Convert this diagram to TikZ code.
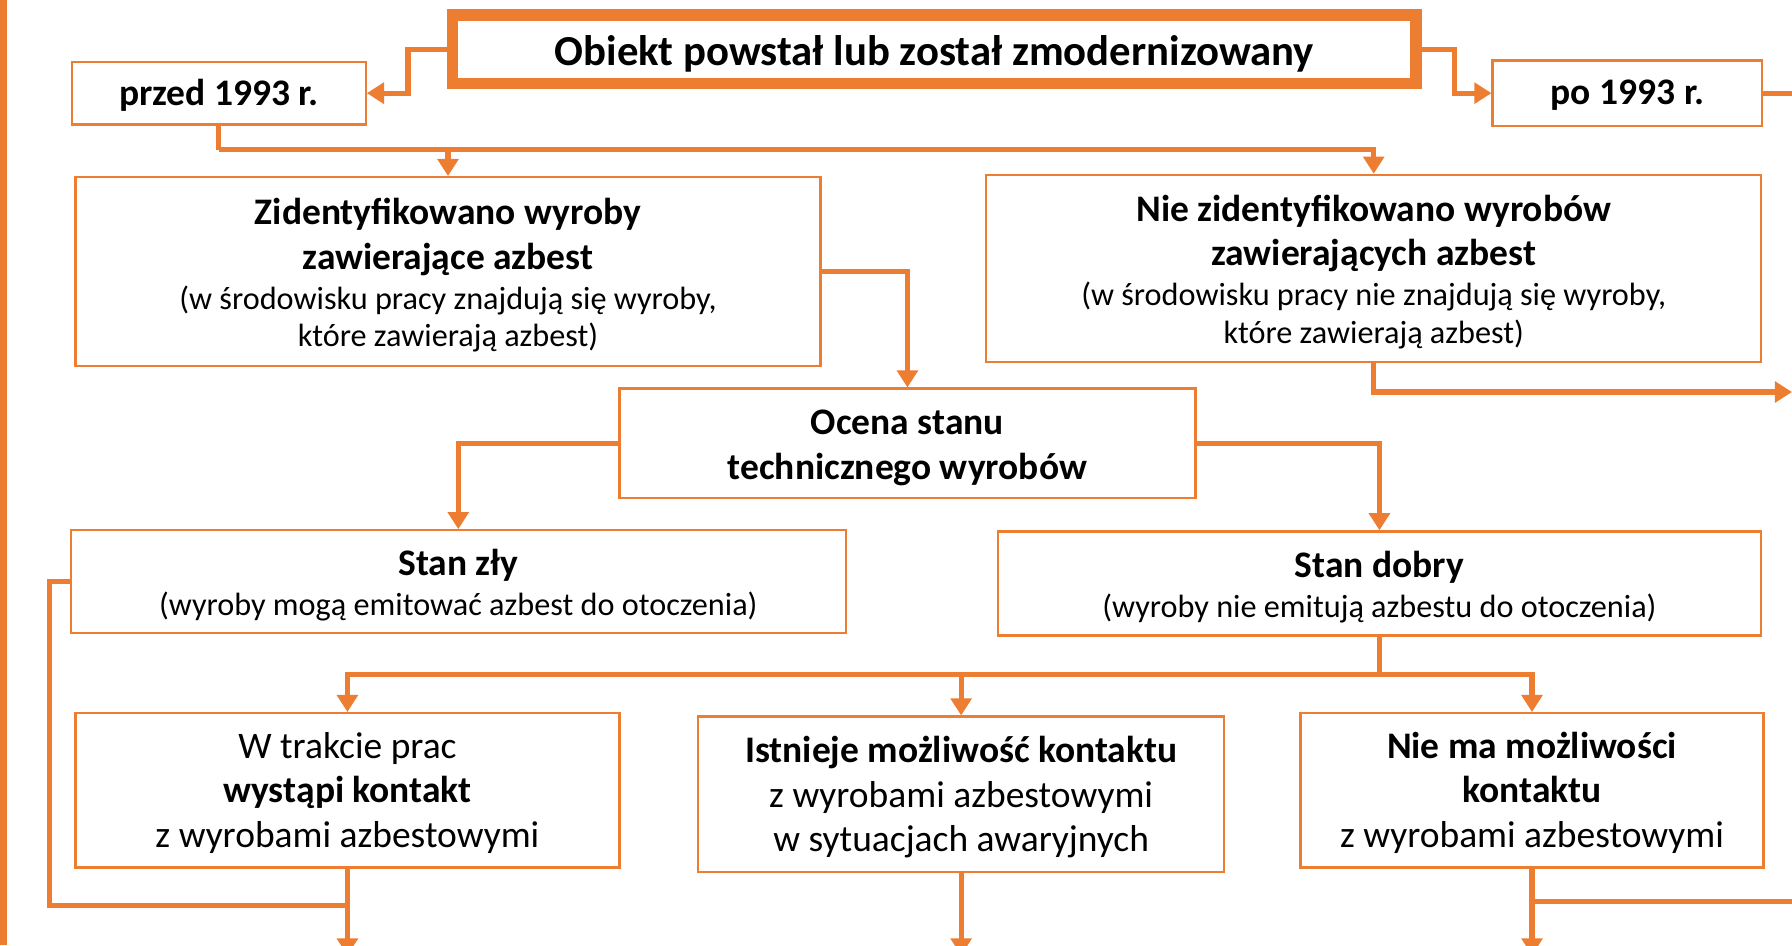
\documentclass[tikz,border=0pt]{standalone}
\usepackage{fontspec}
\setmainfont{Carlito}
\usetikzlibrary{arrows.meta}
\definecolor{org}{HTML}{ED7D31}
\newcommand\bigf{\fontsize{16.4}{19.5}\selectfont}
\newcommand\smf{\fontsize{14.1}{16.5}\selectfont}
\begin{document}
\begin{tikzpicture}[x=0.5pt,y=-0.5pt,
 box/.style={draw=org,line width=1pt,fill=white,inner sep=0pt},
 txt/.style={inner sep=0pt,align=center,font=\bigf},
 conn/.style={draw=org,line width=2.25pt},
 arr/.style={conn,-{Triangle[length=7.5pt,width=9pt]}}]
\useasboundingbox (0,0) rectangle (1568,827);
\clip (0,0) rectangle (1568,827);
\fill[white] (0,0) rectangle (1568,827);
\fill[org] (0,0) rectangle (6,827);

\node[box,line width=5pt,minimum width=421.5pt,minimum height=30pt] (title) at (817.5,43) {};
\node[txt,font=\fontsize{18.7}{22}\selectfont\bfseries] (titleT) at ([yshift=-2pt]title.center) {Obiekt powstał lub został zmodernizowany};
\node[box,minimum width=128.5pt,minimum height=27.5pt] (przed) at (191.5,81.5) {};
\node[txt,font=\bigf\bfseries] (przedT) at ([yshift=-1pt]przed.center) {przed 1993 r.};
\node[box,minimum width=118pt,minimum height=28.5pt] (po) at (1424,81.5) {};
\node[txt,font=\bigf\bfseries] (poT) at ([yshift=-1pt]po.center) {po 1993 r.};

\node[box,minimum width=326pt,minimum height=82.5pt] (zid) at (392,237.5) {};
\node[txt] (zidT) at ([yshift=-1.7pt]zid.center)
 {\textbf{Zidentyfikowano wyroby}\\\textbf{zawierające azbest}\\[-2pt]\smf (w środowisku pracy znajdują się wyroby,\\[-3pt]\smf które zawierają azbest)};
\node[box,minimum width=339pt,minimum height=82pt] (nie) at (1202,235) {};
\node[txt] (nieT) at ([yshift=-1.5pt]nie.center)
 {\textbf{Nie zidentyfikowano wyrobów}\\\textbf{zawierających azbest}\\[-2pt]\smf (w środowisku pracy nie znajdują się wyroby,\\[-3pt]\smf które zawierają azbest)};

\node[box,minimum width=252pt,minimum height=48pt] (ocena) at (794,388) {};
\node[txt,font=\bigf\bfseries] (ocenaT) at ([yshift=-2pt]ocena.center)
 {Ocena stanu\\technicznego wyrobów};

\node[box,minimum width=339pt,minimum height=45pt] (zly) at (401,509) {};
\node[txt] (zlyT) at ([yshift=-1.5pt]zly.center)
 {\textbf{Stan zły}\\[-2pt]\smf (wyroby mogą emitować azbest do otoczenia)};
\node[box,minimum width=334pt,minimum height=45.5pt] (dobry) at (1207,510.5) {};
\node[txt] (dobryT) at ([yshift=-1.75pt]dobry.center)
 {\textbf{Stan dobry}\\[-2pt]\smf (wyroby nie emitują azbestu do otoczenia)};

\node[box,minimum width=238pt,minimum height=67.5pt] (wtr) at (304,691.5) {};
\node[txt] (wtrT) at ([yshift=-1pt]wtr.center)
 {W trakcie prac\\\textbf{wystąpi kontakt}\\z wyrobami azbestowymi};
\node[box,minimum width=230pt,minimum height=68pt] (ist) at (841,695) {};
\node[txt] (istT) at ([yshift=-1.25pt]ist.center)
 {\textbf{Istnieje możliwość kontaktu}\\z wyrobami azbestowymi\\w sytuacjach awaryjnych};
\node[box,minimum width=202.5pt,minimum height=67.5pt] (niema) at (1340.5,691.5) {};
\node[txt] (niemaT) at ([yshift=-1pt]niema.center)
 {\textbf{Nie ma możliwości}\\\textbf{kontaktu}\\z wyrobami azbestowymi};

\coordinate (j1) at (191.5,131);
\coordinate (j2) at (1207,590);
\coordinate (j3) at (43,792);
\coordinate (e1) at (1568,343);
\coordinate (e2) at (1568,81.5);
\coordinate (e3) at (1568,789);
\coordinate (b1) at (0,836);

\draw[arr] (title.west) -- ++(-34,0) |- (przed.east);
\draw[arr] (title.east) -- ++(29,0) |- (po.west);
\draw[conn] (po.east) -- (e2);

\draw[conn] (przed.south) -- (j1);
\draw[arr] (j1) -| (nie.north);
\draw[arr] (zid.north |- j1) -- (zid.north);

\draw[arr] (zid.east) -| (ocena.north);
\draw[arr] (nie.south) |- (e1);

\draw[arr] (ocena.west) -| (zly.north);
\draw[arr] (ocena.east) -| (dobry.north);

\draw[conn] (dobry.south) -- (j2);
\draw[arr] (j2) -| (niema.north);
\draw[arr] (j2) -| (wtr.north);
\draw[arr] (ist.north |- j2) -- (ist.north);

\draw[conn] (zly.west) -| (j3) -- (wtr.south |- j3);
\draw[arr] (wtr.south) -- (wtr.south |- b1);
\draw[arr] (ist.south) -- (ist.south |- b1);
\draw[arr] (niema.south) -- (niema.south |- b1);
\draw[conn] (niema.south |- e3) -- (e3);
\end{tikzpicture}
\end{document}
